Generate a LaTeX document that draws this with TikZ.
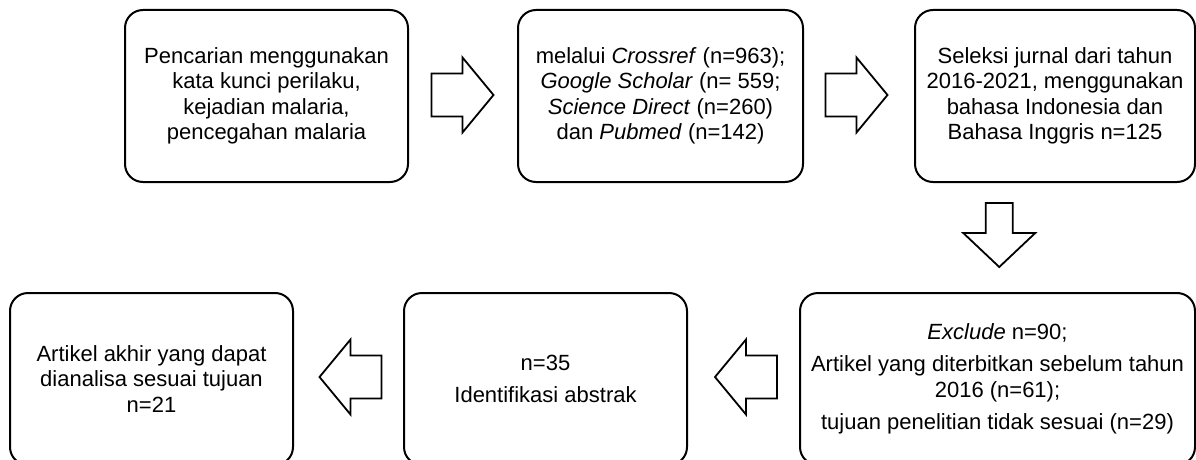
\documentclass[tikz,border=0pt]{standalone}
\usepackage{fontspec}
\setmainfont{Liberation Sans}
\usetikzlibrary{calc}
\tikzset{
  stage/.style={draw, line width=2pt, rounded corners=18pt, align=center,
    minimum height=172pt, inner sep=2pt,
    font=\fontsize{22}{25.5}\selectfont},
  blockarrow/.style={draw, line width=1.8pt, fill=white, line join=miter},
  rarrow/.pic={
    \path[blockarrow] (-31,-21.5) -- (0,-21.5) -- (0,-37.5) -- (31,0)
      -- (0,37.5) -- (0,21.5) -- (-31,21.5) -- cycle;
  },
  darrow/.pic={
    \path[blockarrow] (-13.5,-32) -- (13.5,-32) -- (13.5,-2) -- (36,-2)
      -- (0,32) -- (-36,-2) -- (-13.5,-2) -- cycle;
  }
}
\begin{document}
\begin{tikzpicture}[x=1pt, y=-1pt]
\useasboundingbox (0,0) rectangle (1196,460);
\clip (0,0) rectangle (1196,460);

% top row
\node[stage, minimum width=283pt] (b1) at (266.5,96)
  {Pencarian menggunakan\\kata kunci perilaku,\\kejadian malaria,\\pencegahan malaria};
\node[stage, minimum width=285pt] (b2) at (660.5,96)
  {melalui \textit{Crossref} (n=963);\\\textit{Google Scholar} (n= 559;\\\textit{Science Direct} (n=260)\\dan \textit{Pubmed} (n=142)};
\node[stage, minimum width=280pt] (b3) at (1055,96)
  {Seleksi jurnal dari tahun\\2016-2021, menggunakan\\bahasa Indonesia dan\\Bahasa Inggris n=125};

% bottom row
\node[stage, minimum width=395pt] (b6) at (997.5,379)
  {\textit{Exclude} n=90;\\[7pt]Artikel yang diterbitkan sebelum tahun\\2016 (n=61);\\[7pt]tujuan penelitian tidak sesuai (n=29)};
\node[stage, minimum width=283pt] (b5) at (545.5,379)
  {n=35\\[7pt]Identifikasi abstrak};
\node[stage, minimum width=283pt] (b4) at (151.5,379)
  {Artikel akhir yang dapat\\dianalisa sesuai tujuan\\n=21};

% block arrows between the stages
\pic at ($(b1.east)!0.5!(b2.west)+(-0.5,-1)$) {rarrow};
\pic at ($(b2.east)!0.5!(b3.west)+(-2.5,-1)$) {rarrow};
\pic at ($(b3.south)!0.5!(b6.north)+(-27,-2.5)$) {darrow};
\pic[rotate=180] at ($(b6.west)!0.5!(b5.east)+(2.5,-2)$) {rarrow};
\pic[rotate=180] at ($(b5.west)!0.5!(b4.east)+(2,-2)$) {rarrow};
\end{tikzpicture}
\end{document}
